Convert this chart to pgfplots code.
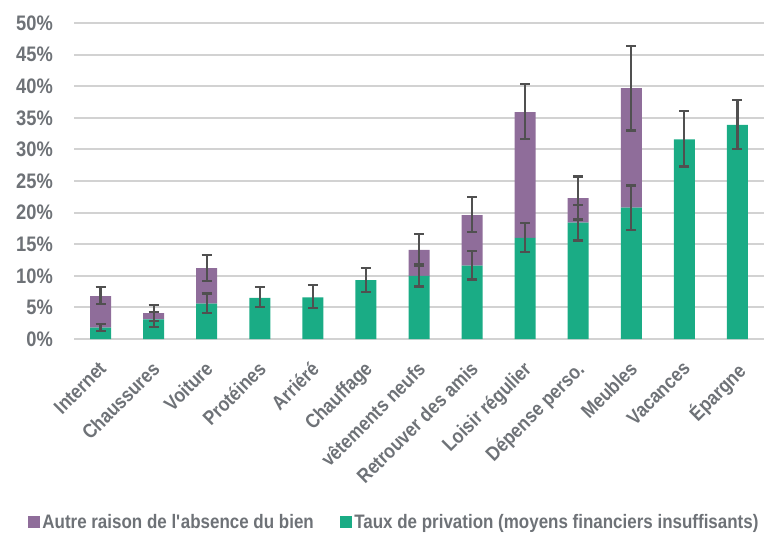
\documentclass[border=0pt]{standalone}
\usepackage{fontspec}
\setmainfont{Liberation Sans}[FakeStretch=0.87]
\usepackage{pgfplots}
\pgfplotsset{compat=1.18}
\usepackage{pgfplotstable}
\definecolor{cpurple}{HTML}{8F6D9A}
\definecolor{cgreen}{HTML}{1AAC85}
\definecolor{errgray}{HTML}{505050}
\definecolor{gridgray}{HTML}{D2D2D2}
\definecolor{txtgray}{HTML}{6E7277}

% x, green value, green err+, green err-
\pgfplotstableread{
x g gp gm
0 1.8 0.6 0.5
1 3.1 1.2 1.2
2 5.6 1.6 1.5
3 6.5 1.7 1.5
4 6.6 1.9 1.7
5 9.3 1.9 1.9
6 10.0 1.9 1.7
7 11.6 2.3 2.2
8 16.0 2.3 2.2
9 18.4 2.8 2.8
10 20.8 3.5 3.6
11 31.6 4.5 4.3
12 33.9 3.9 3.8
}\greentab
% x, purple part
\pgfplotstableread{
x p
0 5.0
1 1.0
2 5.6
3 0
4 0
5 0
6 4.1
7 8.0
8 19.9
9 3.9
10 18.9
11 0
12 0
}\purpletab
% x, total, total err+, total err-
\pgfplotstableread{
x t tp tm
0 6.8 1.4 1.3
1 4.1 1.3 1.3
2 11.2 2.1 2.0
6 14.1 2.5 2.5
7 19.6 2.9 2.7
8 35.9 4.4 4.2
9 22.3 3.4 3.4
10 39.7 6.7 6.7
}\totaltab

\begin{document}
\begin{tikzpicture}[x=1pt,y=1pt]
\path[use as bounding box] (0,0) rectangle (767,532);
\pgfplotsset{
  common/.style={
    at={(74pt,193pt)}, anchor=south west,
    scale only axis, width=690pt, height=316pt,
    xmin=-0.5, xmax=12.5, ymin=0, ymax=50,
  }
}
\begin{axis}[
  common,
  ybar stacked, bar width=21pt,
  axis line style={draw=none},
  major tick length=0pt,
  ytick={0,5,...,50},
  ymajorgrids, grid style={line width=2pt, color=gridgray},
  xtick={0,...,12},
  xticklabels={Internet,Chaussures,Voiture,Protéines,Arriéré,Chauffage,vêtements neufs,Retrouver des amis,Loisir régulier,Dépense perso.,Meubles,Vacances,Épargne},
  /pgf/number format/assume math mode=true,
  yticklabel={\pgfmathprintnumber{\tick}\%},
  ticklabel style={text=txtgray},
  yticklabel style={font=\bfseries\fontsize{21}{22}\selectfont, inner sep=0pt, xshift=-21pt},
  xticklabel style={font=\bfseries\fontsize{20}{21}\selectfont, xshift=-3pt, yshift=-21pt, rotate=45, anchor=north east, inner sep=0pt},
  legend style={at={(0.464,-0.579)}, anchor=center, draw=none, fill=none,
    font=\bfseries\fontsize{19.5}{20}\selectfont, text=txtgray,
    legend columns=2, /tikz/every even column/.append style={column sep=24pt},
    legend cell align=left, inner sep=0pt},
  legend image code/.code={\fill[#1] (0pt,-6.5pt) rectangle (12.5pt,6pt);},
]
\addplot[fill=cgreen, draw=none, forget plot] table[x=x, y=g] {\greentab};
\addplot[fill=cpurple, draw=none, forget plot] table[x=x, y=p] {\purpletab};
\addlegendimage{fill=cpurple, draw=none}
\addlegendentry{Autre raison de l\textquotesingle absence du bien}
\addlegendimage{fill=cgreen, draw=none}
\addlegendentry{Taux de privation (moyens financiers insuffisants)}
\end{axis}
\begin{axis}[
  common, hide axis,
]
\addplot[draw=none, mark=none,
  error bars/.cd, y dir=both, y explicit,
  error bar style={line width=2.2pt, draw=errgray},
  error mark options={rotate=90, mark size=5pt, line width=2.2pt, draw=errgray}]
  table[x=x, y=g, y error plus=gp, y error minus=gm] {\greentab};
\addplot[draw=none, mark=none,
  error bars/.cd, y dir=both, y explicit,
  error bar style={line width=2.2pt, draw=errgray},
  error mark options={rotate=90, mark size=5pt, line width=2.2pt, draw=errgray}]
  table[x=x, y=t, y error plus=tp, y error minus=tm] {\totaltab};
\end{axis}
\end{tikzpicture}
\end{document}
